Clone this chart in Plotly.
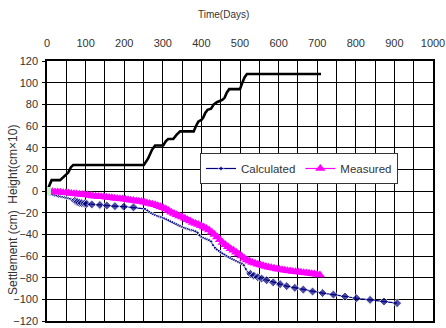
import plotly.graph_objects as go

# Embankment fill height (plotted as cm x 10)
height_days = [0, 5, 12, 34, 47, 55, 62, 68, 251, 262, 272, 280, 301, 308, 314, 327, 336,
               345, 349, 380, 386, 392, 401, 405, 410, 416, 425, 432, 440, 448, 454, 460,
               466, 472, 500, 506, 512, 518, 710]
height_vals = [0, 5, 10, 10, 14, 17, 22, 24, 24, 30, 38, 42, 42, 46, 48, 48, 52,
               55, 55, 55, 60, 64, 66, 68, 72, 75, 76, 80, 82, 83, 84, 86,
               91, 94, 94, 100, 105, 108, 108]

# Calculated settlement (cm)
calc_days = [0, 5, 10, 15, 20, 25, 30, 35, 40, 45, 50, 55, 60, 65,
             72, 76, 79, 84, 90, 97, 103, 116, 137, 155, 176, 199, 224,
             254, 260, 265, 270, 275, 280, 285, 290, 295, 300, 305, 310, 315, 320, 325,
             330, 335, 340, 345, 350, 355, 360, 365, 370, 375, 380, 385, 390, 395, 400,
             405, 410, 415, 420, 425, 430, 435, 440, 445, 450, 455, 460, 465, 470, 475,
             480, 485, 490, 495, 500, 505, 510, 515, 520,
             527, 536, 546, 556, 569, 586, 604, 621, 642, 664, 688, 714, 742, 772, 802,
             837, 873, 907]
calc_vals = [-2, -2.5, -3, -3.5, -4, -4.5, -5, -5.3, -5.6, -6, -6.4, -6.8, -7.2, -7.8,
             -9, -9.8, -10.3, -10.8, -11.2, -11.6, -11.9, -12.4, -12.9, -13.4, -14,
             -14.5, -15.1,
             -16.5, -18, -19.5, -20.5, -21.5, -22.3, -23, -23.6, -24.2, -24.8, -25.5,
             -26.3, -27.2, -28.2, -29, -30, -30.8, -31.8, -32.6, -33.4, -34, -34.6,
             -35.2, -35.7, -36.2, -36.7, -37.3, -38.5, -41, -42.5, -43.3, -44, -44.7,
             -45.4, -46.5, -50, -52.5, -54, -55.3, -56.6, -57.8, -58.9, -60, -61, -62,
             -62.9, -63.8, -64.6, -65.4, -66.2, -67, -68.5, -72, -75,
             -76.5, -78.2, -79.6, -80.8, -82.4, -84.3, -86, -87.8, -89.4, -91, -92.8,
             -94.2, -95.6, -97.4, -99, -100.5, -102, -103.5]

# Measured settlement (cm)
meas_days = [0, 7, 14, 21, 28, 35, 42, 49, 56, 63, 70, 77, 84, 91, 98, 105, 112, 119,
             126, 133, 140, 147, 154, 161, 168, 175, 182, 189, 196, 203, 210, 217, 224,
             231, 238, 245, 252, 259, 266, 273, 280, 287, 294, 301, 308, 315, 322, 329,
             336, 343, 350, 357, 364, 371, 378, 385, 392, 399, 406, 413, 420, 427, 434,
             441, 448, 455, 462, 469, 476, 483, 490, 497, 504, 511, 518, 525, 532, 539,
             546, 553, 560, 567, 574, 581, 588, 595, 602, 609, 616, 623, 630, 637, 644,
             651, 658, 665, 672, 679, 686, 693, 700, 707]
meas_vals = [-0.5, -0.6, -0.8, -0.9, -1.0, -1.2, -1.5, -1.7, -1.9, -2.2, -2.5, -2.8,
             -3.0, -3.3, -3.5, -3.8, -4.2, -4.5, -4.8, -5.0, -5.2, -5.4, -5.7, -6.0,
             -6.3, -6.6, -6.9, -7.2, -7.4, -7.7, -8.1, -8.5, -8.8, -9.2, -9.5, -9.8,
             -10.3, -11.0, -11.6, -12.2, -12.8, -13.6, -14.5, -15.4, -16.6, -18.0,
             -19.5, -20.8, -22.0, -23.0, -24.0, -25.2, -26.5, -27.8, -29.0, -30.0,
             -31.0, -32.0, -33.3, -34.6, -36.0, -38.0, -40.2, -42.5, -45.0, -47.5,
             -49.6, -51.5, -53.2, -54.8, -56.5, -58.2, -60.0, -62.0, -63.6, -64.8,
             -65.9, -66.8, -67.6, -68.4, -69.1, -69.8, -70.4, -70.9, -71.4, -71.9,
             -72.3, -72.7, -73.1, -73.5, -73.8, -74.2, -74.5, -74.8, -75.1, -75.4,
             -75.7, -76.0, -76.3, -76.7, -77.1, -77.5]

# Start point marker
origin_day = [0]
origin_val = [0]

x_ticks = [0, 100, 200, 300, 400, 500, 600, 700, 800, 900, 1000]
y_ticks = [-120, -100, -80, -60, -40, -20, 0, 20, 40, 60, 80, 100, 120]

FONT = "Liberation Sans, Arial, sans-serif"
TEXT = "#333333"

# Plot area in pixels
L, R, T, B = 47, 433, 61, 321
W, H = 446, 328


def px_x(p):
    return (p - L) / (R - L)


def px_y(p):
    return (B - p) / (B - T)


# Small marks on the densely computed stretches, full diamonds elsewhere
calc_sizes = [3 if (d < 70 or 250 <= d <= 522) else 7 for d in calc_days]

fig = go.Figure()

fig.add_trace(go.Scatter(
    x=height_days, y=height_vals, mode="lines",
    line=dict(color="black", width=2.6), showlegend=False, hoverinfo="skip"))

fig.add_trace(go.Scatter(
    x=calc_days, y=calc_vals, mode="lines+markers", name="Calculated",
    line=dict(color="#000080", width=1.2),
    marker=dict(symbol="diamond", size=calc_sizes, color="#000080")))

fig.add_trace(go.Scatter(
    x=meas_days, y=meas_vals, mode="lines+markers", name="Measured",
    line=dict(color="#ff00ff", width=1.2),
    marker=dict(symbol="triangle-up", size=9, color="#ff00ff")))

fig.add_trace(go.Scatter(
    x=origin_day, y=origin_val, mode="markers",
    marker=dict(symbol="square", size=8, color="#c8f0c8"),
    showlegend=False, hoverinfo="skip"))

fig.update_layout(
    width=W, height=H,
    margin=dict(l=L, r=W - R, t=T, b=H - B),
    paper_bgcolor="white", plot_bgcolor="white",
    font=dict(family=FONT, size=11, color=TEXT),
    legend=dict(
        orientation="h", x=px_x(200), y=px_y(153), xanchor="left", yanchor="top",
        bgcolor="white", bordercolor="#333333", borderwidth=1,
        font=dict(family=FONT, size=11.5, color=TEXT),
        itemwidth=30, tracegroupgap=0),
    annotations=[
        dict(text="Time(Days)", x=px_x(223), y=px_y(15), xref="paper", yref="paper",
             xanchor="center", yanchor="middle", showarrow=False,
             font=dict(size=10, color=TEXT)),
        dict(text="Settlement (cm)  Height(cm\u00d710)", x=px_x(13), y=px_y(210),
             xref="paper", yref="paper", xanchor="center", yanchor="middle",
             textangle=-90, showarrow=False, font=dict(size=12, color=TEXT)),
    ],
)

fig.update_xaxes(
    range=[0, 1000], side="top", tickvals=x_ticks, ticks="",
    showgrid=True, gridcolor="black", gridwidth=1,
    minor=dict(dtick=50, tick0=0, showgrid=True, gridcolor="black", gridwidth=1),
    showline=True, linecolor="black", linewidth=1.5, mirror=True,
    zeroline=False, ticklabelstandoff=8, automargin=False,
    tickfont=dict(size=11, color=TEXT))

fig.update_yaxes(
    range=[-120, 120], tickvals=y_ticks, ticks="outside", ticklen=3,
    tickcolor="black", showgrid=True, gridcolor="black", gridwidth=1,
    showline=True, linecolor="black", linewidth=1.5, mirror=True,
    zeroline=False, ticklabelstandoff=2, automargin=False,
    tickfont=dict(size=11, color=TEXT))

fig.write_html("out.html")
